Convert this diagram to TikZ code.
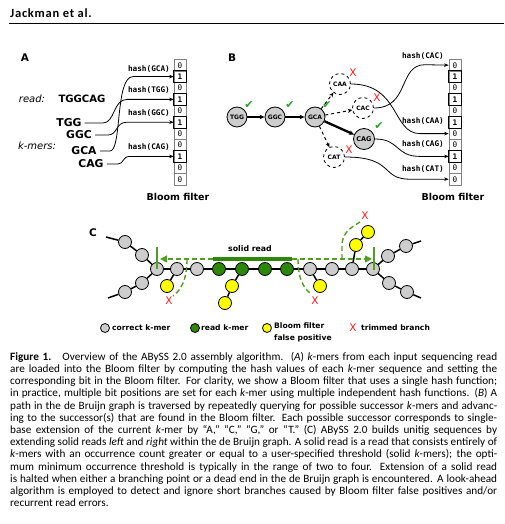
\documentclass[tikz,border=0pt]{standalone}
\usepackage{fontspec}
\setmainfont{Carlito}
\newfontfamily\figfont{DejaVu Sans}
\newfontfamily\codefont{DejaVu Sans Mono}
\usetikzlibrary{arrows.meta,positioning}
\definecolor{kmergray}{RGB}{205,205,205}
\definecolor{readgreen}{RGB}{45,135,10}
\definecolor{walkgreen}{RGB}{80,160,30}
\definecolor{tickgreen}{RGB}{40,165,40}
\definecolor{fpyellow}{RGB}{255,255,0}
\definecolor{cutred}{RGB}{255,25,25}
\newcommand{\capline}[1]{\makebox[487pt][s]{#1}\\}
\tikzset{
  every picture/.style={line join=round, >=Stealth},
  panel/.style={font=\figfont\bfseries\fontsize{10.5}{12}\selectfont, inner sep=0pt},
  seqlab/.style={font=\figfont\bfseries\fontsize{10.8}{12}\selectfont, inner sep=0pt},
  ital/.style={font=\figfont\itshape\fontsize{10}{12}\selectfont, inner sep=0pt},
  filterlab/.style={font=\figfont\bfseries\fontsize{9.5}{11}\selectfont, inner sep=0pt},
  hashlab/.style={font=\codefont\bfseries\fontsize{7.7}{9}\selectfont, inner sep=0pt, anchor=east},
  bitcell/.style={draw=gray, line width=0.6pt, minimum width=12pt, minimum height=11.4pt,
    inner sep=0pt, font=\codefont\fontsize{7.7}{9}\selectfont},
  hasharrow/.style={-{Stealth[length=4.5pt,width=3.5pt]}, line width=0.8pt},
  kmer/.style={circle, draw, line width=0.8pt, fill=kmergray, minimum size=20pt, inner sep=0pt,
    font=\figfont\bfseries\fontsize{6}{7}\selectfont},
  trial/.style={kmer, dashed, fill=white, minimum size=21pt},
  walk/.style={-{Stealth[length=5pt,width=4.5pt]}, line width=1.5pt},
  probe/.style={-{Stealth[length=4.5pt,width=4pt]}, dashed, line width=1pt},
  okmark/.style={text=tickgreen, font=\figfont\fontsize{11}{11}\selectfont, inner sep=0pt},
  nomark/.style={text=cutred, font=\figfont\fontsize{10.5}{10}\selectfont, inner sep=0pt},
  kdot/.style={circle, draw, line width=0.8pt, minimum size=13pt, inner sep=0pt},
  graydot/.style={kdot, fill=kmergray},
  greendot/.style={kdot, fill=readgreen},
  yellowdot/.style={kdot, fill=fpyellow},
  chain/.style={line width=1.5pt},
  lookahead/.style={draw=walkgreen, line width=1.4pt, dash pattern=on 5pt off 3pt},
  legendlab/.style={font=\figfont\bfseries\fontsize{7.6}{12}\selectfont, inner sep=0pt, anchor=west, align=left},
}

\begin{document}
\begin{tikzpicture}[x=1pt,y=-1pt]
\useasboundingbox[fill=white] (0,0) rectangle (504,524);

% running head
\node[anchor=base west, inner sep=0pt, font=\bfseries\fontsize{12.5}{14}\selectfont\addfontfeature{LetterSpace=6}] (head) at (10,18) {Jackman et al.};
\draw[line width=0.9pt] (9,23.3) coordinate (rulel) -- (504,23.3) coordinate (ruler);

%%% A
\node[panel] (A) at (25,58) {A};
\foreach \b [count=\i from 0] in {0,1,0,1,0,1,0,0,1,0,0}
  \node[bitcell] (fa\i) at (180,65.2+11.4*\i) {\ifnum\b=1 \bfseries\fi\b};
\foreach \i in {1,3,5,8}
  \draw[line width=0.8pt] (fa\i.north west) rectangle (fa\i.south east);
\node[filterlab] (bfa) at (178,197) {Bloom filter};

\node[ital] (readlab) at (32,99) {read:};
\node[seqlab, font=\figfont\bfseries\fontsize{10.1}{12}\selectfont] (read) at (82,99) {TGGCAG};
\node[ital] (kmerlab) at (37,146) {k-mers:};
\node[seqlab] (TGGa) at (69,123) {TGG};
\node[seqlab] (GGCa) at (79,135) {GGC};
\node[seqlab] (GCAa) at (84,151) {GCA};
\node[seqlab] (CAGa) at (91,164) {CAG};

\draw[hasharrow] ([xshift=3pt]GCAa.east) -- (110,151) .. controls (122,151) and (115,76.6) .. (133,76.6) -- (fa1.west);
\draw[hasharrow] ([xshift=3pt]TGGa.east) -- (103,123) .. controls (115,123) and (113,99.4) .. (127,99.4) -- (fa3.west);
\draw[hasharrow] ([xshift=3pt]GGCa.east) -- (108,135) .. controls (118,135) and (115,122.2) .. (127,122.2) -- (fa5.west);
\draw[hasharrow] ([xshift=3pt]CAGa.east) -- (118,164) .. controls (124,164) and (122,156.4) .. (130,156.4) -- (fa8.west);
\node[hashlab] (hGCA) at (170,69) {hash(GCA)};
\node[hashlab] (hTGG) at (170,90) {hash(TGG)};
\node[hashlab] (hGGC) at (170,113) {hash(GGC)};
\node[hashlab] (hCAGa) at (170,147) {hash(CAG)};

%%% B
\node[panel] (B) at (232,58) {B};
\foreach \b [count=\i from 0] in {0,1,0,1,0,1,0,0,1,0,0}
  \node[bitcell] (fb\i) at (455,65.2+11.4*\i) {\ifnum\b=1 \bfseries\fi\b};
\foreach \i in {1,3,5,8}
  \draw[line width=0.8pt] (fb\i.north west) rectangle (fb\i.south east);
\node[filterlab] (bfb) at (453,197) {Bloom filter};

\node[kmer] (TGG) at (237,117) {TGG};
\node[kmer] (GGC) at (275,117) {GGC};
\node[kmer] (GCA) at (315,117) {GCA};
\node[trial] (CAA) at (340,84) {CAA};
\node[trial] (CAC) at (363,108) {CAC};
\node[kmer, minimum size=21pt, font=\figfont\bfseries\fontsize{6.5}{7}\selectfont] (CAG) at (364,139) {CAG};
\node[trial] (CAT) at (334,157) {CAT};

\draw[walk] (TGG) -- (GGC);
\draw[walk] (GGC) -- (GCA);
\draw[walk, line width=2.3pt] (GCA) -- (CAG);
\draw[probe] (GCA) -- (CAA);
\draw[probe] (GCA) -- (CAC);
\draw[probe] (GCA) -- (CAT);

\node[okmark] (okTGG) at (249,105) {✔};
\node[okmark] (okGGC) at (290,105) {✔};
\node[okmark] (okGCA) at (327,105) {✔};
\node[okmark] (okCAG) at (379,126) {✔};
\node[nomark] (noCAA) at (353,73) {X};
\node[nomark] (noCAC) at (377,98) {X};
\node[nomark] (noCAT) at (349,150) {X};

\draw[hasharrow] (CAC.east) .. controls (410,108) and (398,64.7) .. (425,64.7) -- (fb0.west);
\draw[hasharrow] (CAA.east) .. controls (400,84) and (392,133.6) .. (420,133.6) -- (fb6.west);
\draw[hasharrow] (CAG.east) .. controls (400,139) and (395,156.4) .. (420,156.4) -- (fb8.west);
\draw[hasharrow] (CAT.east) .. controls (395,157) and (380,179.2) .. (410,179.2) -- (fb10.west);
\node[hashlab] (hCAC) at (444,56) {hash(CAC)};
\node[hashlab] (hCAA) at (444,121) {hash(CAA)};
\node[hashlab] (hCAGb) at (444,144) {hash(CAG)};
\node[hashlab] (hCAT) at (444,169) {hash(CAT)};

%%% C
\node[panel] (C) at (93,233) {C};
\foreach \x/\s [count=\i] in {157/graydot,177/graydot,197/graydot,219/greendot,242/greendot,
    265/greendot,287/greendot,310/graydot,332/graydot,352/graydot,373/graydot}
  \node[\s] (c\i) at (\x,269) {};
\foreach \i [count=\j from 2] in {1,...,10}
  \draw[chain] (c\i) -- (c\j);

% branches at both ends
\node[graydot] (lu1) at (142,255) {};
\node[graydot] (lu2) at (125,242) {};
\node[graydot] (ld1) at (142,283) {};
\node[graydot] (ld2) at (125,292) {};
\node[graydot] (ru1) at (388,256) {};
\node[graydot] (ru2) at (406,246) {};
\node[graydot] (rd1) at (389,283) {};
\node[graydot] (rd2) at (407,292) {};
\coordinate (lu3) at (106,237);
\coordinate (ld3) at (108,298);
\coordinate (ru3) at (421,241);
\coordinate (rd3) at (421,298);
\draw[chain] (c1) -- (lu1) -- (lu2) -- (lu3);
\draw[chain] (c1) -- (ld1) -- (ld2) -- (ld3);
\draw[chain] (c11) -- (ru1) -- (ru2) -- (ru3);
\draw[chain] (c11) -- (rd1) -- (rd2) -- (rd3);

% false positive branches
\node[yellowdot] (y1) at (167,286) {};
\node[yellowdot] (y2) at (232,286) {};
\node[yellowdot] (y3) at (225,303) {};
\node[yellowdot] (y4) at (320,286) {};
\node[yellowdot] (y5) at (356,245) {};
\node[yellowdot] (y6) at (368,232) {};
\draw[chain] (c2) -- (y1);
\draw[chain] (c5) -- (y2) -- (y3);
\draw[chain] (c8) -- (y4);
\draw[chain] (c10) -- (y5) -- (y6);

% solid read and its extension
\node[fill=readgreen, minimum width=79pt, minimum height=4pt, inner sep=0pt] (bar) at (252.5,259) {};
\node[font=\figfont\bfseries\fontsize{7.8}{9}\selectfont, inner sep=0pt] (solid) at (250,249) {solid read};
\coordinate (lstop) at (160,259);
\coordinate (rstop) at (372,259);
\draw[lookahead, -{Triangle[length=7pt,width=7pt]}] (bar.west) -- (lstop);
\draw[lookahead, -{Triangle[length=7pt,width=7pt]}] (bar.east) -- (rstop);
\draw[draw=walkgreen, line width=1.6pt] (157,247) coordinate (lt) -- (157,269) coordinate (lb);
\draw[draw=walkgreen, line width=1.6pt] (374,247) coordinate (rt) -- (374,270) coordinate (rb);

\draw[lookahead] (187,259) .. controls (187,280) and (181,290) .. (173,296);
\draw[lookahead] (298,259) .. controls (298,280) and (304,288) .. (311,294);
\draw[lookahead] (342,259) -- (342,246) .. controls (342,233) and (350,228) .. (360,222);
\node[nomark] (x1) at (169,301) {X};
\node[nomark] (x2) at (315,301) {X};
\node[nomark] (x3) at (365,216) {X};

% legend
\node[kdot, fill=kmergray, minimum size=9pt] (lg1) at (105,328) {};
\node[legendlab] (lt1) at (112,328) {correct k-mer};
\node[kdot, fill=readgreen, minimum size=9pt] (lg2) at (195,328) {};
\node[legendlab] (lt2) at (201,328) {read k-mer};
\node[kdot, fill=fpyellow, minimum size=9pt] (lg3) at (267,328) {};
\node[legendlab, anchor=north west] (lt3) at (274,323) {Bloom filter\\false positive};
\node[nomark] (lg4) at (353,328) {X};
\node[legendlab] (lt4) at (361,328) {trimmed branch};

%%% caption
\node[anchor=north west, inner sep=0pt, align=left, font=\fontsize{11.2}{12.2}\selectfont] (caption) at (10,352) {%
\spaceskip=0.2em plus 1em minus 0.14em\relax
\capline{\textbf{Figure 1.}\quad Overview of the ABySS 2.0 assembly algorithm. (\textit{A}) \textit{k}-mers from each input sequencing read}
\capline{are loaded into the Bloom filter by computing the hash values of each \textit{k}-mer sequence and setting the}
\capline{corresponding bit in the Bloom filter. For clarity, we show a Bloom filter that uses a single hash function;}
\capline{in practice, multiple bit positions are set for each \textit{k}-mer using multiple independent hash functions. (\textit{B}) A}
\capline{path in the de Bruijn graph is traversed by repeatedly querying for possible successor \textit{k}-mers and advanc-}
\capline{ing to the successor(s) that are found in the Bloom filter. Each possible successor corresponds to single-}
\capline{base extension of the current \textit{k}-mer by “A,” “C,” “G,” or “T.” (C) ABySS 2.0 builds unitig sequences by}
\capline{extending solid reads \textit{left} and \textit{right} within the de Bruijn graph. A solid read is a read that consists entirely of}
\capline{\textit{k}-mers with an occurrence count greater or equal to a user-specified threshold (solid \textit{k}-mers); the opti-}
\capline{mum minimum occurrence threshold is typically in the range of two to four. Extension of a solid read}
\capline{is halted when either a branching point or a dead end in the de Bruijn graph is encountered. A look-ahead}
\capline{algorithm is employed to detect and ignore short branches caused by Bloom filter false positives and/or}
recurrent read errors.};
\end{tikzpicture}
\end{document}
